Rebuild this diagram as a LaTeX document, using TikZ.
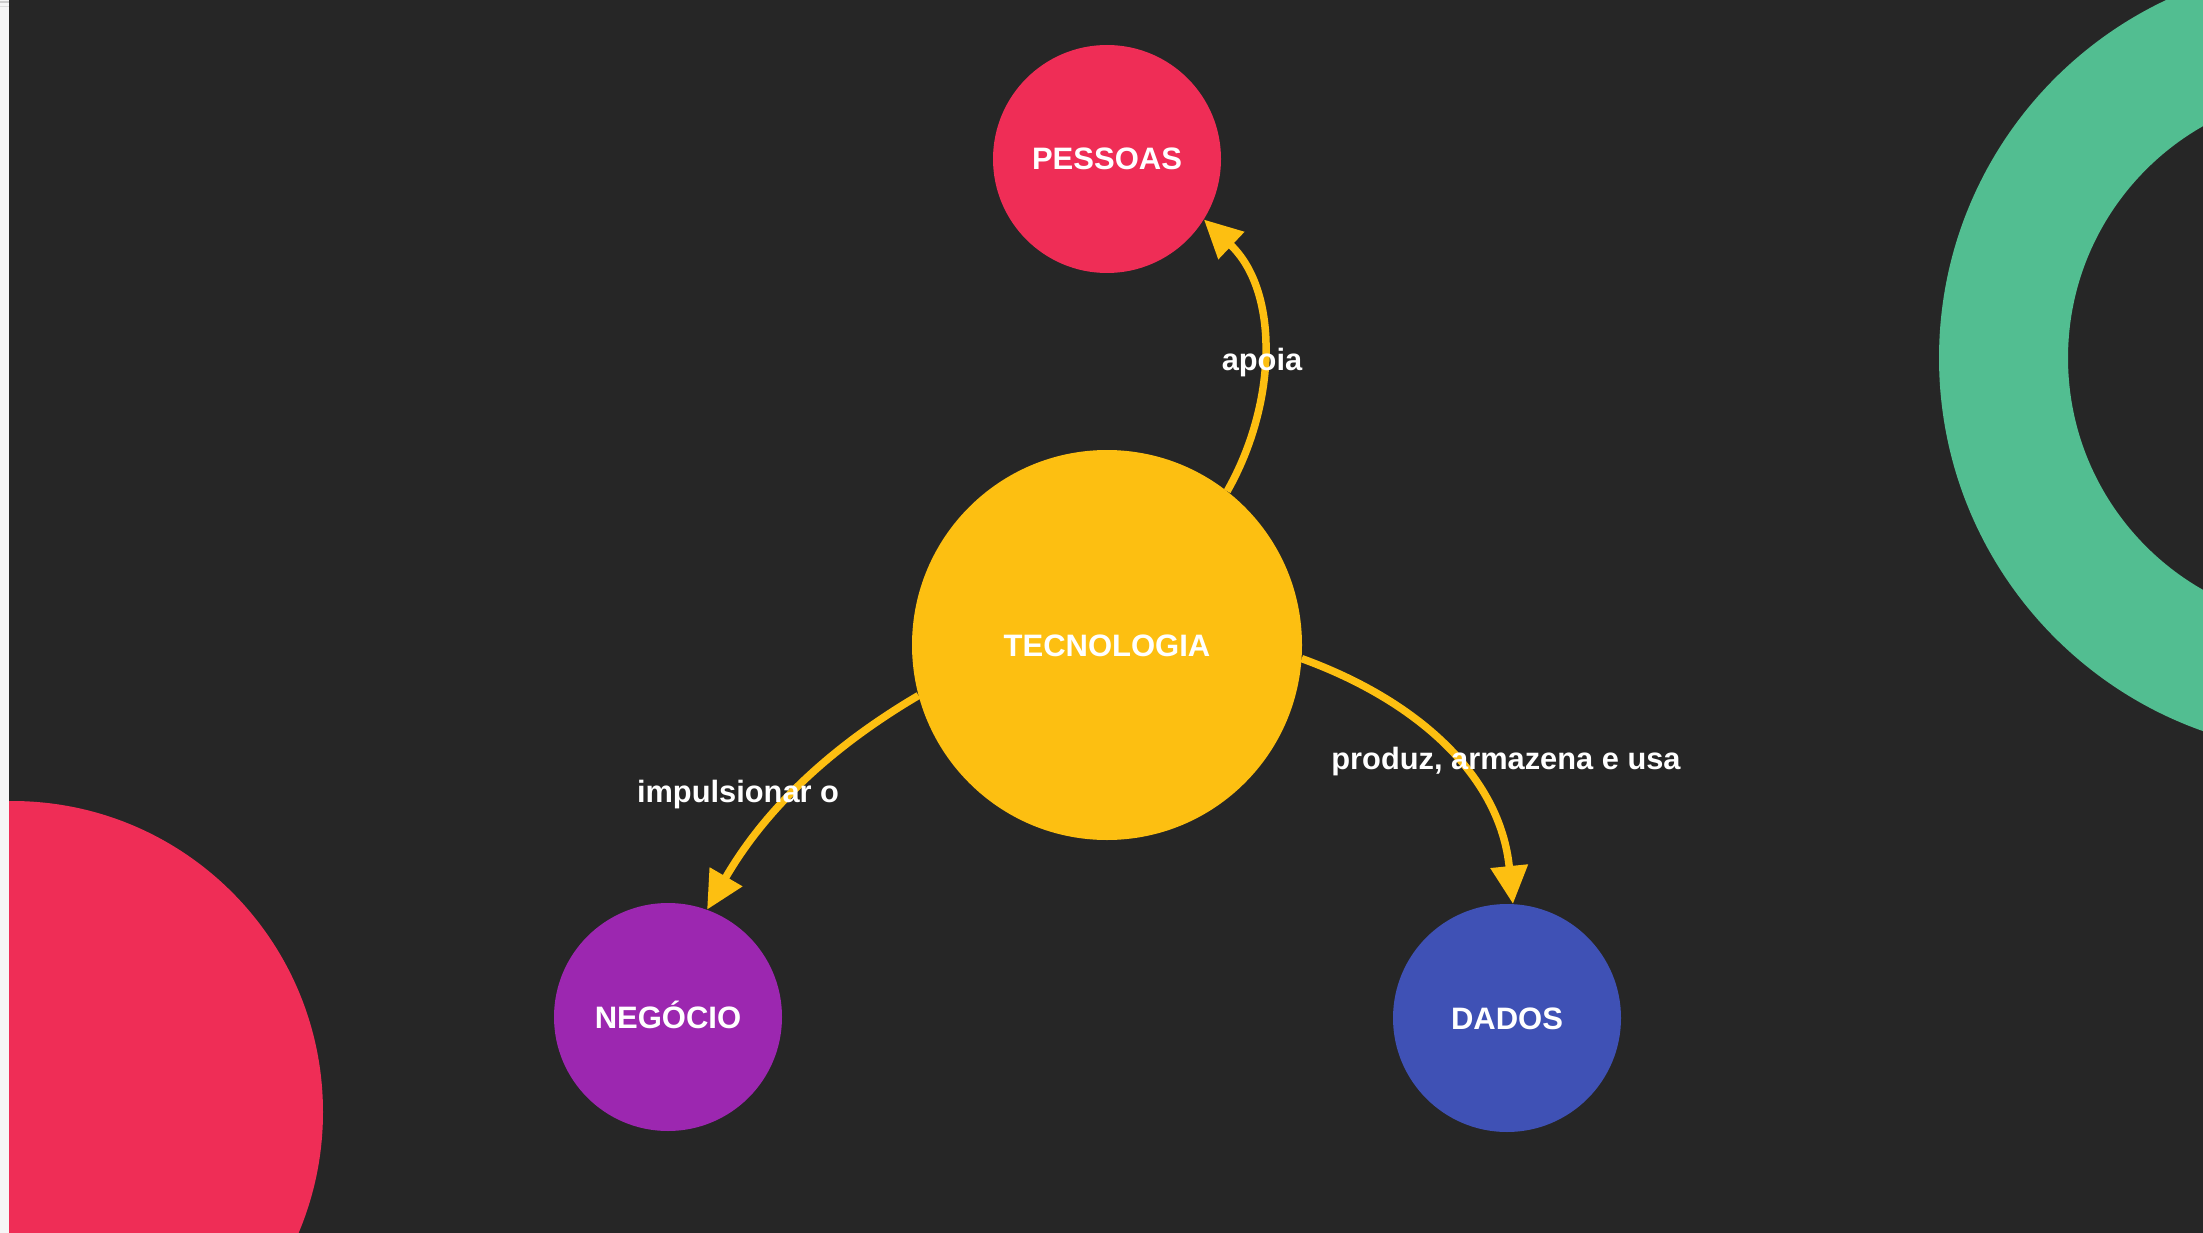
\documentclass[tikz,border=0pt]{standalone}
\usepackage{fontspec}
\setmainfont{Liberation Sans}
\usetikzlibrary{arrows.meta}
\definecolor{bg}{RGB}{38,38,38}
\definecolor{strip}{RGB}{246,246,246}
\definecolor{stripline}{RGB}{205,205,205}
\definecolor{ringgreen}{RGB}{82,190,145}
\definecolor{pred}{RGB}{239,45,86}
\definecolor{yel}{RGB}{253,191,17}
\definecolor{purp}{RGB}{156,39,176}
\definecolor{indg}{RGB}{63,81,181}
\tikzset{
  bubble/.style={circle, inner sep=0pt, text=white,
    font=\bfseries\fontsize{31}{31}\selectfont, text height=22pt, text depth=0pt},
  conn/.style={draw=yel, line width=7.5pt, -{Triangle[length=38pt,width=36pt]}},
  lbl/.style={text=white, inner sep=0pt, font=\bfseries\fontsize{30.8}{31}\selectfont}
}
\begin{document}
\begin{tikzpicture}[x=1pt,y=-1pt]
\useasboundingbox (0,0) rectangle (2203,1233);
\fill[bg] (0,0) rectangle (2203,1233);
\begin{scope}
\clip (0,0) rectangle (2203,1233);
\fill[ringgreen, even odd rule] (2334.5,358) circle[radius=395.5pt] (2334.5,358) circle[radius=266.5pt];
\fill[pred] (12,1112) circle[radius=311pt];
\end{scope}
\fill[strip] (0,0) rectangle (9,1233);
\fill[stripline] (0,1.5) rectangle (9,3);
\fill[stripline!60!strip] (0,6.5) rectangle (9,7.5);

\node[bubble, fill=yel, minimum size=390pt] (tec) at (1107,645) {TECNOLOGIA};
\node[bubble, fill=pred, minimum size=228pt] (pes) at (1107,159) {PESSOAS};
\node[bubble, fill=purp, minimum size=228pt] (neg) at (668,1017) {NEGÓCIO};
\node[bubble, fill=indg, minimum size=228pt] (dad) at (1507,1018) {DADOS};

\draw[conn] (tec.52) .. controls +(50,-88) and +(76,72) .. (pes.-32);
\draw[conn] (tec.195) .. controls +(-95,56) and +(55,-95) .. (neg.70);
\draw[conn] (tec.-4) .. controls +(113,41) and +(-13,-130) .. (dad.87);

\node[lbl, anchor=base] (l1) at (1262,370) {apoia};
\node[lbl, anchor=base] (l2) at (738,802) {impulsionar o};
\node[lbl, anchor=base] (l3) at (1506,769) {produz, armazena e usa};
\end{tikzpicture}
\end{document}
